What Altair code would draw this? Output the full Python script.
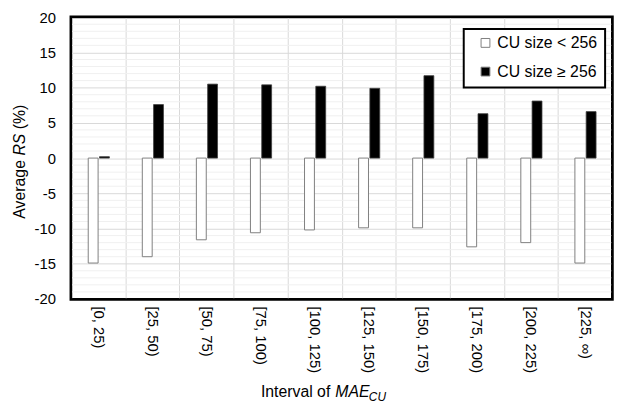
import altair as alt
import pandas as pd

categories = ["[0, 25)", "[25, 50)", "[50, 75)", "[75, 100)", "[100, 125)",
              "[125, 150)", "[150, 175)", "[175, 200)", "[200, 225)", "[225, ∞)"]
series_names = ["CU size < 256", "CU size ≥ 256"]
small_cu = [-14.9, -14.0, -11.6, -10.6, -10.2, -9.9, -9.9, -12.6, -12.0, -14.9]
large_cu = [0.2, 7.6, 10.5, 10.4, 10.2, 9.9, 11.7, 6.3, 8.1, 6.6]
major_ticks = [-20, -15, -10, -5, 0, 5, 10, 15, 20]
minor_ticks = [v for v in range(-20, 21) if v % 5 != 0]
y_limits = [-20, 20]
y_title_parts = ["Average", "RS", "(%)"]
x_title_parts = ["Interval of", "MAE", "CU"]

FONT = "Liberation Sans"
W, H = 547, 285

df = pd.DataFrame({
    "category": categories * 2,
    "series": [series_names[0]] * len(categories) + [series_names[1]] * len(categories),
    "value": small_cu + large_cu,
})

x_scale = alt.Scale(paddingInner=0, paddingOuter=0)
x_axis = alt.Axis(title=None, labelAngle=90, labelFontSize=15, labelFont=FONT,
                  labelColor="black", ticks=False, domain=False, grid=True,
                  gridColor="#d9d9d9", gridWidth=1, tickBand="extent",
                  labelPadding=7, zindex=0)
x_enc = alt.X("category:N", sort=categories, scale=x_scale, axis=x_axis)
y_scale = alt.Scale(domain=y_limits, nice=False, zero=False)
y_axis = alt.Axis(title=None, values=major_ticks, grid=True, gridColor="#d9d9d9",
                  ticks=False, domain=False, labelFontSize=15, labelFont=FONT,
                  labelColor="black", labelPadding=16, labelExpr="'' + datum.value",
                  zindex=0)
y_enc = alt.Y("value:Q", scale=y_scale, axis=y_axis)
fill_enc = alt.Fill("series:N",
                    scale=alt.Scale(domain=series_names, range=["white", "black"]),
                    legend=alt.Legend(title=None, orient="none", legendX=411, legendY=18,
                                      labelFontSize=16, labelFont=FONT, labelColor="black",
                                      symbolType="square", symbolSize=80,
                                      symbolStrokeColor="#7f7f7f", symbolStrokeWidth=1,
                                      labelOffset=4, padding=0, rowPadding=13))

minor = alt.Chart(pd.DataFrame({"value": minor_ticks})).mark_rule(
    color="#f0f0f0", strokeWidth=1).encode(y=y_enc)

bars_small = alt.Chart(df).transform_filter(
    alt.datum.series == series_names[0]).mark_bar(
    size=10, xOffset=-5.2, stroke="#7f7f7f", strokeWidth=1).encode(
    x=x_enc, y=y_enc, fill=fill_enc)
bars_large = alt.Chart(df).transform_filter(
    alt.datum.series == series_names[1]).mark_bar(
    size=10, xOffset=6.2, stroke="#404040", strokeWidth=0.8).encode(
    x=x_enc, y=y_enc, fill=fill_enc)

# plot frame, drawn just outside the plot edges
frame = alt.Chart(pd.DataFrame({"b": [1]})).mark_rect(
    fill="transparent", stroke="#000000", strokeWidth=2.5).encode(
    x=alt.value(-0.5), x2=alt.value(W + 0.5), y=alt.value(-0.5), y2=alt.value(H + 0.5))

legend_box = alt.Chart(pd.DataFrame({"a": [0]})).mark_rect(
    fill="white", stroke="black", strokeWidth=2).encode(
    x=alt.value(397), x2=alt.value(540), y=alt.value(12), y2=alt.value(71))

def txt(s, **kw):
    return alt.Chart(pd.DataFrame({"t": [s]})).mark_text(font=FONT, color="black", **kw).encode(text="t:N")

# y title pieces (rotated, reading bottom to top)
yt1 = txt(y_title_parts[0], angle=270, align="right", baseline="middle", fontSize=16).encode(
    x=alt.value(-52), y=alt.value(144.5))
yt2 = txt(y_title_parts[1], angle=270, align="left", baseline="middle", fontSize=16,
          fontStyle="italic").encode(x=alt.value(-52), y=alt.value(140))
yt3 = txt(y_title_parts[2], angle=270, align="left", baseline="middle", fontSize=16).encode(
    x=alt.value(-52), y=alt.value(113.3))
# x title pieces
xt1 = txt(x_title_parts[0], align="right", baseline="alphabetic", fontSize=16).encode(
    x=alt.value(262), y=alt.value(384))
xt2 = txt(x_title_parts[1], align="left", baseline="alphabetic", fontSize=16,
          fontStyle="italic").encode(x=alt.value(267), y=alt.value(384))
xt3 = txt(x_title_parts[2], align="left", baseline="alphabetic", fontSize=12,
          fontStyle="italic").encode(x=alt.value(301), y=alt.value(388))

chart = alt.layer(minor, bars_small, bars_large, legend_box, frame,
                  yt1, yt2, yt3, xt1, xt2, xt3).properties(
    width=W, height=H,
    autosize=alt.AutoSizeParams(type="none"),
    padding={"left": 64, "top": 7, "right": 2, "bottom": 110},
    background="white",
).configure_view(stroke="black", strokeWidth=2)

chart.save("out.html", embed_options={"renderer": "svg", "actions": False})
